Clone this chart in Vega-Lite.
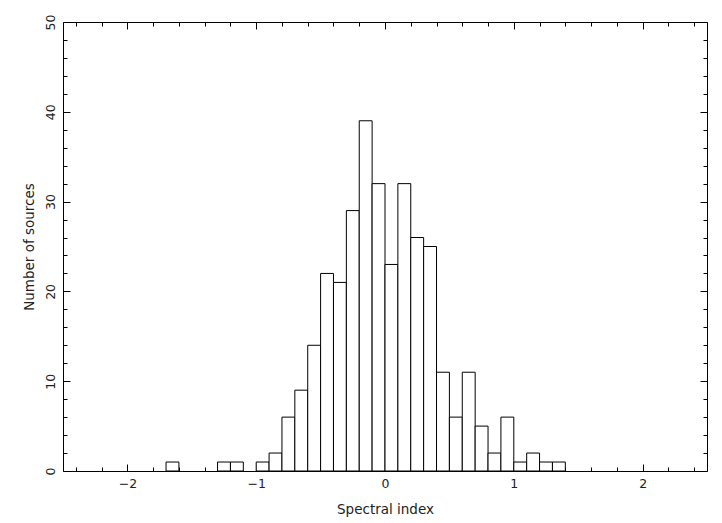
{
  "$schema": "https://vega.github.io/schema/vega-lite/v6.json",
  "width": 644,
  "height": 449,
  "autosize": {"type": "none"},
  "padding": {"left": 63, "top": 22, "right": 15, "bottom": 52},
  "background": "white",
  "config": {
    "view": {"stroke": null},
    "axis": {
      "domainColor": "black",
      "domainWidth": 1,
      "tickColor": "black",
      "tickWidth": 1,
      "grid": false,
      "labelFont": "DejaVu Sans",
      "labelFontSize": 12.5,
      "labelColor": "#222",
      "titleFont": "DejaVu Sans",
      "titleFontSize": 13.5,
      "titleFontWeight": "normal",
      "titleColor": "#222",
      "labelFlush": false,
      "labelOverlap": false
    }
  },
  "data": {
    "values": [
      {"lo": -1.7, "hi": -1.6, "n": 1},
      {"lo": -1.3, "hi": -1.2, "n": 1},
      {"lo": -1.2, "hi": -1.1, "n": 1},
      {"lo": -1.0, "hi": -0.9, "n": 1},
      {"lo": -0.9, "hi": -0.8, "n": 2},
      {"lo": -0.8, "hi": -0.7, "n": 6},
      {"lo": -0.7, "hi": -0.6, "n": 9},
      {"lo": -0.6, "hi": -0.5, "n": 14},
      {"lo": -0.5, "hi": -0.4, "n": 22},
      {"lo": -0.4, "hi": -0.3, "n": 21},
      {"lo": -0.3, "hi": -0.2, "n": 29},
      {"lo": -0.2, "hi": -0.1, "n": 39},
      {"lo": -0.1, "hi": 0.0, "n": 32},
      {"lo": 0.0, "hi": 0.1, "n": 23},
      {"lo": 0.1, "hi": 0.2, "n": 32},
      {"lo": 0.2, "hi": 0.3, "n": 26},
      {"lo": 0.3, "hi": 0.4, "n": 25},
      {"lo": 0.4, "hi": 0.5, "n": 11},
      {"lo": 0.5, "hi": 0.6, "n": 6},
      {"lo": 0.6, "hi": 0.7, "n": 11},
      {"lo": 0.7, "hi": 0.8, "n": 5},
      {"lo": 0.8, "hi": 0.9, "n": 2},
      {"lo": 0.9, "hi": 1.0, "n": 6},
      {"lo": 1.0, "hi": 1.1, "n": 1},
      {"lo": 1.1, "hi": 1.2, "n": 2},
      {"lo": 1.2, "hi": 1.3, "n": 1},
      {"lo": 1.3, "hi": 1.4, "n": 1}
    ]
  },
  "layer": [
    {
      "mark": {"type": "bar", "fill": "white", "stroke": "black", "strokeWidth": 1},
      "encoding": {
        "x": {
          "field": "lo", "type": "quantitative",
          "scale": {"domain": [-2.5, 2.5], "nice": false, "zero": false},
          "axis": {
            "orient": "bottom",
            "title": "Spectral index",
            "values": [-2, -1, 0, 1, 2],
            "format": "d",
            "tickSize": -7,
            "labelPadding": 13,
            "labelAngle": 0,
            "labelAlign": "center",
            "labelBaseline": "top",
            "titlePadding": 13
          }
        },
        "x2": {"field": "hi"},
        "y": {
          "field": "n", "type": "quantitative",
          "scale": {"domain": [0, 50], "nice": false},
          "axis": {
            "orient": "left",
            "title": "Number of sources",
            "values": [0, 10, 20, 30, 40, 50],
            "tickSize": -7,
            "labelPadding": 13,
            "labelAngle": -90,
            "labelAlign": "center",
            "labelBaseline": "bottom",
            "titlePadding": 8
          }
        },
        "y2": {"datum": 0}
      }
    },
    {
      "mark": {"type": "bar", "opacity": 0},
      "encoding": {
        "x": {
          "field": "lo", "type": "quantitative",
          "scale": {"domain": [-2.5, 2.5], "nice": false, "zero": false},
          "axis": {
            "orient": "bottom", "title": null, "labels": false, "domain": false,
            "values": [-2.4, -2.2, -1.8, -1.6, -1.4, -1.2, -0.8, -0.6, -0.4, -0.2, 0.2, 0.4, 0.6, 0.8, 1.2, 1.4, 1.6, 1.8, 2.2, 2.4],
            "tickSize": -4
          }
        },
        "x2": {"field": "hi"},
        "y": {
          "field": "n", "type": "quantitative",
          "scale": {"domain": [0, 50], "nice": false},
          "axis": {
            "orient": "left", "title": null, "labels": false, "domain": false,
            "values": [2, 4, 6, 8, 12, 14, 16, 18, 22, 24, 26, 28, 32, 34, 36, 38, 42, 44, 46, 48],
            "tickSize": -4
          }
        },
        "y2": {"datum": 0}
      }
    },
    {
      "mark": {"type": "bar", "opacity": 0},
      "encoding": {
        "x": {
          "field": "lo", "type": "quantitative",
          "scale": {"domain": [-2.5, 2.5], "nice": false, "zero": false},
          "axis": {
            "orient": "top", "title": null, "labels": false,
            "values": [-2, -1, 0, 1, 2],
            "tickSize": -7
          }
        },
        "x2": {"field": "hi"},
        "y": {
          "field": "n", "type": "quantitative",
          "scale": {"domain": [0, 50], "nice": false},
          "axis": {
            "orient": "right", "title": null, "labels": false,
            "values": [0, 10, 20, 30, 40, 50],
            "tickSize": -7
          }
        },
        "y2": {"datum": 0}
      }
    },
    {
      "mark": {"type": "bar", "opacity": 0},
      "encoding": {
        "x": {
          "field": "lo", "type": "quantitative",
          "scale": {"domain": [-2.5, 2.5], "nice": false, "zero": false},
          "axis": {
            "orient": "top", "title": null, "labels": false, "domain": false,
            "values": [-2.4, -2.2, -1.8, -1.6, -1.4, -1.2, -0.8, -0.6, -0.4, -0.2, 0.2, 0.4, 0.6, 0.8, 1.2, 1.4, 1.6, 1.8, 2.2, 2.4],
            "tickSize": -4
          }
        },
        "x2": {"field": "hi"},
        "y": {
          "field": "n", "type": "quantitative",
          "scale": {"domain": [0, 50], "nice": false},
          "axis": {
            "orient": "right", "title": null, "labels": false, "domain": false,
            "values": [2, 4, 6, 8, 12, 14, 16, 18, 22, 24, 26, 28, 32, 34, 36, 38, 42, 44, 46, 48],
            "tickSize": -4
          }
        },
        "y2": {"datum": 0}
      }
    }
  ],
  "resolve": {"axis": {"x": "independent", "y": "independent"}}
}
